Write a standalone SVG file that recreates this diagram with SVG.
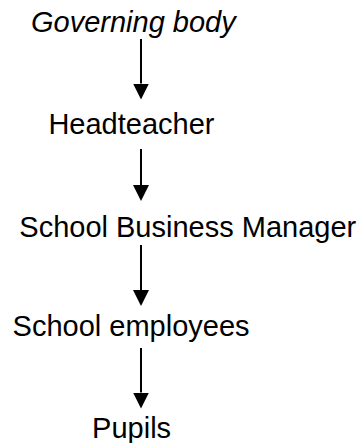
<svg xmlns="http://www.w3.org/2000/svg" width="363" height="443" viewBox="0 0 363 443">
  <style>
    .lbl { font-family: "Liberation Sans", Arial, sans-serif; font-size: 29px; fill: #000; }
    .it { font-style: italic; }
    .conn { stroke: #000; stroke-width: 2; fill: none; marker-end: url(#arrow); }
  </style>
  <defs>
    <marker id="arrow" markerUnits="userSpaceOnUse" markerWidth="16" markerHeight="16" viewBox="0 -8 16 16" refX="0" refY="0" orient="auto">
      <path d="M0,-8 L16,0 L0,8 Z" fill="#000"/>
    </marker>
  </defs>
  <rect width="363" height="443" fill="#fff"/>
  <g id="connectors">
    <line class="conn" x1="141" y1="39" x2="141" y2="83.5"/>
    <line class="conn" x1="141" y1="149" x2="141" y2="185"/>
    <line class="conn" x1="141" y1="245" x2="141" y2="290"/>
    <line class="conn" x1="141" y1="348" x2="141" y2="392.5"/>
  </g>
  <g id="governing-body"><text class="lbl it" x="31" y="31.7">Governing body</text></g>
  <g id="headteacher"><text class="lbl" x="48.4" y="134.3">Headteacher</text></g>
  <g id="school-business-manager"><text class="lbl" x="19.3" y="237.3">School Business Manager</text></g>
  <g id="school-employees"><text class="lbl" x="12.6" y="336">School employees</text></g>
  <g id="pupils"><text class="lbl" x="92.1" y="437.7">Pupils</text></g>
</svg>
